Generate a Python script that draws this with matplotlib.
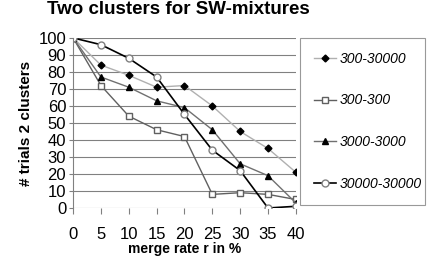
import matplotlib
matplotlib.use("Agg")
import matplotlib.pyplot as plt

rates = [0, 5, 10, 15, 20, 25, 30, 35, 40]
s_300_30000 = [100, 84, 78, 71, 72, 60, 45, 35, 21]
s_300_300 = [100, 72, 54, 46, 42, 8, 9, 8, 5]
s_3000_3000 = [100, 77, 71, 63, 59, 46, 26, 19, 3]
s_30000_30000 = [100, 96, 88, 77, 55, 34, 22, 0, 1]
labels = ["300-30000", "300-300", "3000-3000", "30000-30000"]

plt.rcParams["font.family"] = "Liberation Sans"

fig = plt.figure(figsize=(4.3, 2.56), dpi=100)
ax = fig.add_axes([0.17, 0.1875, 0.518, 0.6645])

ax.plot(rates, s_300_30000, color="#b0b0b0", lw=1, marker="D", ms=3.5,
        mfc="black", mec="black", label=labels[0])
ax.plot(rates, s_300_300, color="#606060", lw=1, marker="s", ms=5,
        mfc="white", mec="#606060", label=labels[1])
ax.plot(rates, s_3000_3000, color="#707070", lw=1, marker="^", ms=5,
        mfc="black", mec="black", label=labels[2])
ax.plot(rates, s_30000_30000, color="black", lw=1.2, marker="o", ms=5,
        mfc="white", mec="#808080", label=labels[3])

ax.set_xlim(0, 40)
ax.set_ylim(0, 100)
ax.set_xticks(rates)
ax.set_yticks(range(0, 101, 10))
ax.yaxis.grid(True, color="#808080", lw=0.8)
ax.set_axisbelow(True)
for s in ["top", "right", "bottom"]:
    ax.spines[s].set_visible(False)
ax.spines["left"].set_color("#808080")
ax.tick_params(axis="y", length=3, color="#808080", labelsize=12, pad=2)
ax.tick_params(axis="x", length=4, color="#808080", labelsize=12, pad=10)

fig.suptitle("Two clusters for SW-mixtures", fontsize=13.5, fontweight="bold",
             x=0.414, y=0.995, va="top")
ax.set_ylabel("# trials 2 clusters", fontsize=11, fontweight="bold",
              labelpad=4)
ax.set_xlabel("merge rate r in %", fontsize=10, fontweight="bold",
              labelpad=0)

leg = ax.legend(loc="lower left", bbox_to_anchor=(1.018, 0.018, 0.56, 0.988),
                mode="expand", fancybox=False, edgecolor="#808080",
                prop={"style": "italic", "size": 10}, handlelength=1.6,
                labelspacing=2.0, borderaxespad=0, handletextpad=0.3,
                borderpad=1.0)
leg.get_frame().set_linewidth(0.8)

fig.savefig("out.png", dpi=100)
